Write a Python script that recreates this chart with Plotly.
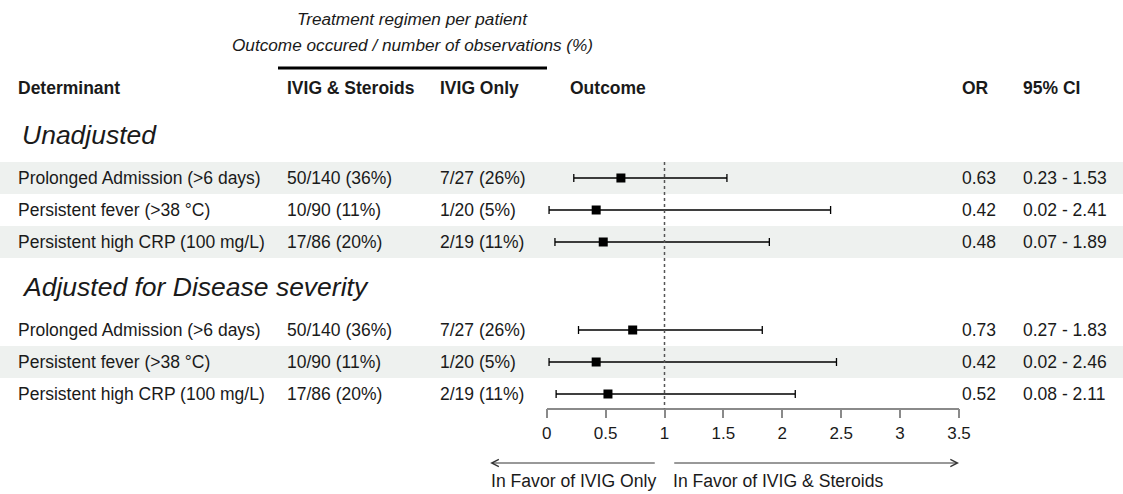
import plotly.graph_objects as go

# ---------------- data ----------------
groups = ["Unadjusted", "Adjusted for Disease severity"]
determinants = ["Prolonged Admission (>6 days)", "Persistent fever (>38 °C)", "Persistent high CRP (100 mg/L)"]
ivig_steroids = [["50/140 (36%)", "10/90 (11%)", "17/86 (20%)"],
                 ["50/140 (36%)", "10/90 (11%)", "17/86 (20%)"]]
ivig_only = [["7/27 (26%)", "1/20 (5%)", "2/19 (11%)"],
             ["7/27 (26%)", "1/20 (5%)", "2/19 (11%)"]]
or_unadjusted = [0.63, 0.42, 0.48]
lo_unadjusted = [0.23, 0.02, 0.07]
hi_unadjusted = [1.53, 2.41, 1.89]
or_adjusted = [0.73, 0.42, 0.52]
lo_adjusted = [0.27, 0.02, 0.08]
hi_adjusted = [1.83, 2.46, 2.11]
tick_values = [0, 0.5, 1, 1.5, 2, 2.5, 3, 3.5]
tick_labels = ["0", "0.5", "1", "1.5", "2", "2.5", "3", "3.5"]
header_labels = ["Determinant", "IVIG & Steroids", "IVIG Only", "Outcome", "OR", "95% CI"]
span_title = ["Treatment regimen per patient", "Outcome occured / number of observations (%)"]
favor_labels = ["In Favor of IVIG Only", "In Favor of IVIG & Steroids"]
reference_value = 1

or_values = [or_unadjusted, or_adjusted]
lo_values = [lo_unadjusted, lo_adjusted]
hi_values = [hi_unadjusted, hi_adjusted]

# ---------------- layout constants (pixels) ----------------
W, H = 1123, 494
FONT = "Liberation Sans, Arial, sans-serif"
TXT = "#1a1a1a"
SHADE = "#eef1ef"
PAD = 2                                # annotation inner padding
col_x = [18, 287, 440, 570, 962, 1023]
x0_px, x1_px = 546.7, 959.0          # forest axis 0 .. 3.5
axis_min, axis_max = 0, 3.5
header_y = 88
title_y = [19, 45]
bar_y = 68
group_title_y0 = 135
group_title_x = 22
row_h = 32
axis_y = 408.5
arrow_y = 463
arrow_label_y = 481
arrow_gap = 0.07
left_arrow_end = -0.48
FS = 17.5


def px_to_paper(px):
    return px / W


def val_to_px(v):
    return x0_px + (v - axis_min) / (axis_max - axis_min) * (x1_px - x0_px)


fig = go.Figure()
annotations = []
shapes = []


def text_ann(x_px, y, text, size=FS, anchor="left"):
    shift = -PAD if anchor == "left" else (PAD if anchor == "right" else 0)
    annotations.append(dict(x=px_to_paper(x_px), y=y, xref="paper", yref="y", xshift=shift,
                            text=text, showarrow=False, xanchor=anchor, yanchor="middle",
                            font=dict(size=size, color=TXT, family=FONT)))


# headers
for lab, cx in zip(header_labels, col_x):
    text_ann(cx, header_y, f"<b>{lab}</b>")
# spanning title
bar_x0, bar_x1 = 278, 547
for t, ty in zip(span_title, title_y):
    text_ann((bar_x0 + bar_x1) / 2, ty, f"<i>{t}</i>", size=17.2, anchor="center")
shapes.append(dict(type="line", xref="paper", yref="y", x0=px_to_paper(bar_x0), x1=px_to_paper(bar_x1),
                   y0=bar_y, y1=bar_y, line=dict(color="black", width=3)))

# rows
gy = group_title_y0
global_idx = 0
first_row_top = None
for gi, g in enumerate(groups):
    text_ann(group_title_x, gy, f"<i>{g}</i>", size=26.5)
    ys = [gy + 43 + row_h * i for i in range(len(determinants))]
    if first_row_top is None:
        first_row_top = ys[0] - row_h / 2
    for i, y in enumerate(ys):
        if global_idx % 2 == 0:
            shapes.append(dict(type="rect", xref="paper", yref="y", x0=0, x1=1,
                               y0=y - row_h / 2, y1=y + row_h / 2, fillcolor=SHADE,
                               line=dict(width=0), layer="below"))
        cells = [determinants[i], ivig_steroids[gi][i], ivig_only[gi][i], None,
                 f"{or_values[gi][i]:.2f}",
                 f"{lo_values[gi][i]:.2f} - {hi_values[gi][i]:.2f}"]
        for c, cx in zip(cells, col_x):
            if c is not None:
                text_ann(cx, y, c)
        global_idx += 1
    fig.add_trace(go.Scatter(
        x=or_values[gi], y=ys, mode="markers",
        marker=dict(symbol="square", size=9, color="black"),
        error_x=dict(type="data", symmetric=False,
                     array=[h - o for h, o in zip(hi_values[gi], or_values[gi])],
                     arrayminus=[o - l for o, l in zip(or_values[gi], lo_values[gi])],
                     color="black", thickness=1.3, width=4),
        showlegend=False, hoverinfo="skip", cliponaxis=False))
    gy = ys[-1] + 45

# reference line
shapes.append(dict(type="line", xref="x", yref="y", x0=reference_value, x1=reference_value,
                   y0=first_row_top, y1=axis_y, line=dict(color="#555555", width=1.5, dash="dot")))

# favour arrows
left_tail = val_to_px(reference_value - arrow_gap)
left_head = val_to_px(left_arrow_end)
right_tail = val_to_px(reference_value + arrow_gap)
right_head = val_to_px(axis_max)
for head, tail in [(left_head, left_tail), (right_head, right_tail)]:
    annotations.append(dict(x=px_to_paper(head), y=arrow_y, xref="paper", yref="y",
                            ax=tail - head, ay=0, axref="pixel", ayref="pixel",
                            text="", showarrow=True, arrowhead=5, arrowsize=1.4, arrowwidth=1,
                            arrowcolor="#333333"))
text_ann(left_tail, arrow_label_y, favor_labels[0], size=17.6, anchor="right")
text_ann(right_tail, arrow_label_y, favor_labels[1], size=17.6, anchor="left")

fig.update_layout(
    width=W, height=H, autosize=False, margin=dict(l=0, r=0, t=0, b=0, pad=0, autoexpand=False),
    paper_bgcolor="white", plot_bgcolor="rgba(0,0,0,0)",
    shapes=shapes, annotations=annotations,
    xaxis=dict(domain=[px_to_paper(x0_px), px_to_paper(x1_px)], range=[axis_min, axis_max],
               tickvals=tick_values, ticktext=tick_labels, showgrid=False, zeroline=False,
               showline=True, linecolor="#8a8a8a", linewidth=1.5, ticks="outside", ticklen=9,
               tickwidth=1.5, tickcolor="#8a8a8a", anchor="free", position=1 - axis_y / H,
               tickfont=dict(size=17, color=TXT, family=FONT), fixedrange=True),
    yaxis=dict(domain=[0, 1], range=[H, 0], visible=False, fixedrange=True),
    font=dict(family=FONT, color=TXT),
)

fig.write_html("out.html", config={"responsive": False, "displayModeBar": False},
               post_script="document.documentElement.style.overflow='hidden';document.body.style.margin='0';document.body.style.overflow='hidden';")
